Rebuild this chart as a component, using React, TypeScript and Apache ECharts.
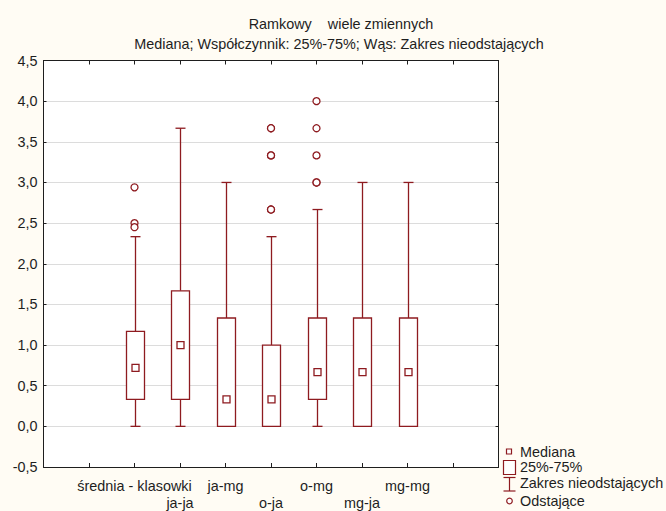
import React, { useEffect, useRef } from "react";
import * as echarts from "echarts";

const categories = ["średnia - klasowki", "ja-ja", "ja-mg", "o-ja", "o-mg", "mg-ja", "mg-mg"];
const whiskerLow = [0, 0, 0, 0, 0, 0, 0];
const quartile1 = [0.333, 0.333, 0, 0, 0.333, 0, 0];
const medians = [0.72, 1.0, 0.333, 0.333, 0.667, 0.667, 0.667];
const quartile3 = [1.167, 1.667, 1.333, 1.0, 1.333, 1.333, 1.333];
const whiskerHigh = [2.333, 3.667, 3.0, 2.333, 2.667, 3.0, 3.0];
const outliers: number[][] = [
  [2.94, 2.5, 2.45],
  [],
  [],
  [3.667, 3.667, 3.333, 3.333, 2.667, 2.667],
  [4.0, 3.667, 3.333, 3.0, 3.0],
  [],
  [],
];
const yTicks = { min: -0.5, max: 4.5, step: 0.5 };
const titleText = "Ramkowy    wiele zmiennych";
const subtitleText = "Mediana; Współczynnik: 25%-75%; Wąs: Zakres nieodstających";
const legendLabels = ["Mediana", "25%-75%", "Zakres nieodstających", "Odstające"];

const RED = "#8e1b20";
const INK = "#1e1e1e";
const FONT = "Liberation Sans, Arial, sans-serif";
const FS = 14.4;

export default function App() {
  const ref = useRef<HTMLDivElement>(null);
  useEffect(() => {
    if (!ref.current) return;
    const chart = echarts.init(ref.current, null, { renderer: "svg" });
    const offset = 2;
    const xMax = categories.length + 3;
    const boxData = categories.map((_, i) => [
      i + offset,
      whiskerLow[i],
      quartile1[i],
      medians[i],
      quartile3[i],
      whiskerHigh[i],
    ]);
    const outlierData: number[][] = [];
    outliers.forEach((arr, i) => arr.forEach((v) => outlierData.push([i + offset, v])));

    const renderBox = (params: any, api: any) => {
      const x = api.value(0);
      const pLow = api.coord([x, api.value(1)]);
      const pQ1 = api.coord([x, api.value(2)]);
      const pMed = api.coord([x, api.value(3)]);
      const pQ3 = api.coord([x, api.value(4)]);
      const pHigh = api.coord([x, api.value(5)]);
      const cx = Math.round(pMed[0]) + 0.5;
      const bw = 18;
      const cw = 10;
      const ms = 7;
      const ls = { stroke: RED, lineWidth: 1.3, fill: null };
      return {
        type: "group",
        children: [
          { type: "line", shape: { x1: cx, y1: pLow[1], x2: cx, y2: pQ1[1] }, style: ls },
          { type: "line", shape: { x1: cx, y1: pQ3[1], x2: cx, y2: pHigh[1] }, style: ls },
          { type: "line", shape: { x1: cx - cw / 2, y1: pLow[1], x2: cx + cw / 2, y2: pLow[1] }, style: ls },
          { type: "line", shape: { x1: cx - cw / 2, y1: pHigh[1], x2: cx + cw / 2, y2: pHigh[1] }, style: ls },
          {
            type: "rect",
            shape: { x: cx - bw / 2, y: pQ3[1], width: bw, height: pQ1[1] - pQ3[1] },
            style: { stroke: RED, lineWidth: 1.3, fill: "#ffffff" },
          },
          {
            type: "rect",
            shape: { x: cx - ms / 2, y: pMed[1] - ms / 2, width: ms, height: ms },
            style: { stroke: RED, lineWidth: 1.3, fill: "#ffffff" },
          },
        ],
      };
    };

    const fmtY = (v: number) => v.toFixed(1).replace(".", ",");
    const fmtX = (v: number) => {
      const i = Math.round(v) - offset;
      if (i < 0 || i >= categories.length) return "";
      return i % 2 === 1 ? "\n" + categories[i] : categories[i];
    };

    const axisLine = { show: true, onZero: false, lineStyle: { color: INK, width: 1 } };
    const lx = 520;
    const legendY = [451.7, 467.3, 483.3, 500.7];

    chart.setOption({
      animation: false,
      backgroundColor: "#fffcf4",
      textStyle: { fontFamily: FONT },
      grid: {
        left: 43.5,
        right: 167.5,
        top: 60.5,
        bottom: 40.5,
        show: true,
        backgroundColor: "#ffffff",
        borderWidth: 0,
      },
      xAxis: [
        {
          type: "value",
          position: "bottom",
          min: 0,
          max: xMax,
          interval: 1,
          axisLine,
          axisTick: { show: true, inside: true, length: 4, lineStyle: { color: INK } },
          splitLine: { show: false },
          axisLabel: {
            formatter: fmtX,
            fontSize: FS,
            color: INK,
            fontFamily: FONT,
            margin: 11,
            lineHeight: 16.5,
            showMinLabel: false,
            showMaxLabel: false,
          },
        },
        {
          type: "value",
          position: "top",
          min: 0,
          max: xMax,
          interval: 1,
          axisLine,
          axisTick: { show: true, inside: true, length: 4, lineStyle: { color: INK } },
          splitLine: { show: false },
          axisLabel: { show: false },
        },
      ],
      yAxis: [
        {
          type: "value",
          position: "left",
          min: yTicks.min,
          max: yTicks.max,
          interval: yTicks.step,
          axisLine,
          axisTick: { show: true, inside: true, length: 3, lineStyle: { color: INK } },
          splitLine: { show: true, lineStyle: { color: "#dcdcdc", width: 1 } },
          axisLabel: { formatter: fmtY, fontSize: FS, color: INK, fontFamily: FONT, margin: 6 },
        },
        {
          type: "value",
          position: "right",
          min: yTicks.min,
          max: yTicks.max,
          interval: yTicks.step,
          axisLine,
          axisTick: { show: true, inside: true, length: 3, lineStyle: { color: INK } },
          splitLine: { show: false },
          axisLabel: { show: false },
        },
      ],
      series: [
        {
          type: "custom",
          xAxisIndex: 0,
          yAxisIndex: 0,
          renderItem: renderBox,
          data: boxData,
          encode: { x: 0, y: [1, 2, 3, 4, 5] },
          clip: false,
        },
        {
          type: "scatter",
          xAxisIndex: 0,
          yAxisIndex: 0,
          data: outlierData,
          symbol: "circle",
          symbolSize: 7,
          itemStyle: { color: "#ffffff", borderColor: RED, borderWidth: 1.3, opacity: 1 },
          z: 3,
        },
      ],
      graphic: [
        {
          type: "text",
          x: 341,
          y: 24,
          style: { text: titleText, font: `${FS}px ${FONT}`, fill: INK, align: "center", verticalAlign: "middle" },
        },
        {
          type: "text",
          x: 339,
          y: 43.5,
          style: { text: subtitleText, font: `${FS}px ${FONT}`, fill: INK, align: "center", verticalAlign: "middle" },
        },
        {
          type: "rect",
          shape: { x: 506.5, y: 449, width: 5, height: 5 },
          style: { stroke: RED, fill: "#ffffff", lineWidth: 1.2 },
        },
        {
          type: "rect",
          shape: { x: 503.5, y: 460.5, width: 12, height: 14 },
          style: { stroke: RED, fill: "#ffffff", lineWidth: 1.2 },
        },
        { type: "line", shape: { x1: 509.5, y1: 477.5, x2: 509.5, y2: 491 }, style: { stroke: RED, lineWidth: 1.2 } },
        { type: "line", shape: { x1: 503.5, y1: 477.5, x2: 515.5, y2: 477.5 }, style: { stroke: RED, lineWidth: 1.2 } },
        { type: "line", shape: { x1: 503.5, y1: 491, x2: 515.5, y2: 491 }, style: { stroke: RED, lineWidth: 1.2 } },
        {
          type: "circle",
          shape: { cx: 509.5, cy: 501, r: 2.8 },
          style: { stroke: RED, fill: "#ffffff", lineWidth: 1.2 },
        },
        ...legendLabels.map((t, i) => ({
          type: "text",
          x: lx,
          y: legendY[i],
          style: { text: t, font: `${FS}px ${FONT}`, fill: INK, align: "left", verticalAlign: "middle" },
        })),
      ],
    });
    return () => chart.dispose();
  }, []);
  return (
    <div
      ref={ref}
      style={{ position: "absolute", left: 0, top: 0, width: 666, height: 511 }}
    />
  );
}
